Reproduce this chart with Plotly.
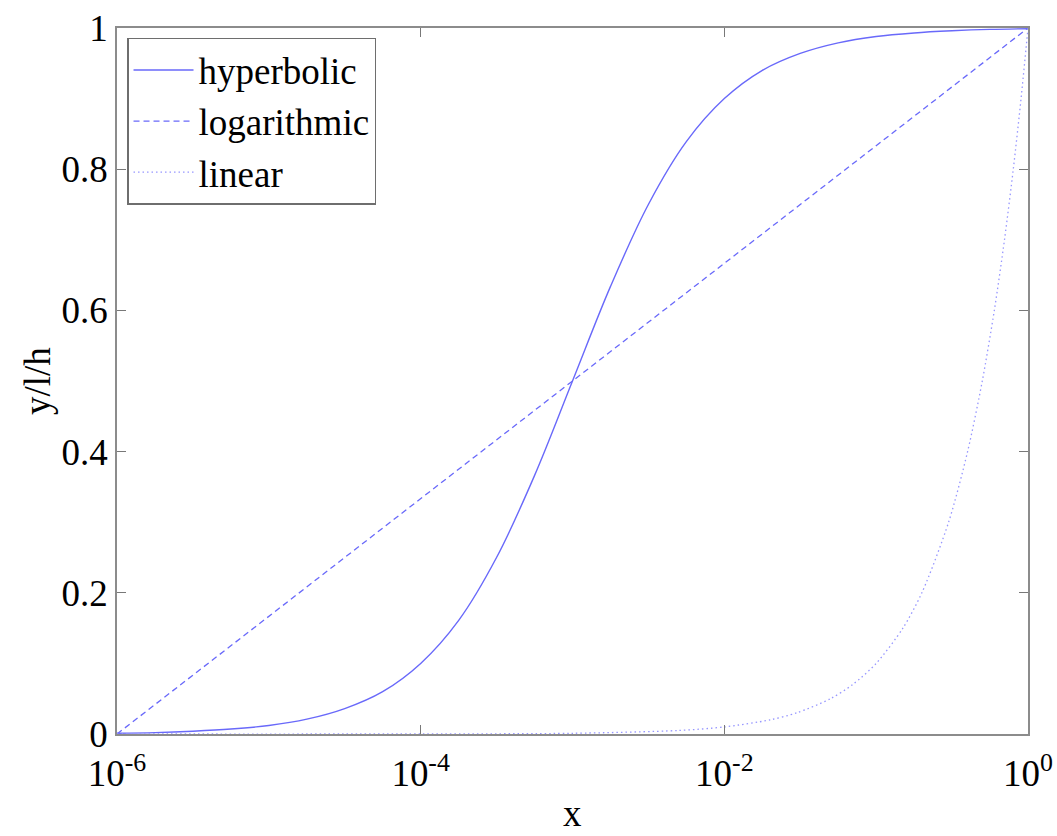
import plotly.graph_objects as go

# ---- data ----
hyp_x = [1e-6, 1.78e-6, 3.16e-6, 5.62e-6, 1e-5, 1.78e-5, 3.16e-5, 5.62e-5,
         1e-4, 1.78e-4, 3.16e-4, 5.62e-4, 1e-3, 1.78e-3, 3.16e-3, 5.62e-3,
         1e-2, 1.78e-2, 3.16e-2, 5.62e-2, 0.1, 0.178, 0.316, 0.562, 1.0]
hyp_y = [0.001, 0.002, 0.004, 0.007, 0.012, 0.021, 0.036, 0.060,
         0.100, 0.161, 0.250, 0.366, 0.500, 0.634, 0.750, 0.839,
         0.900, 0.940, 0.964, 0.979, 0.988, 0.993, 0.996, 0.998, 0.999]

log_x = [1e-6, 1.0]
log_y = [0.0, 1.0]

lin_x = [1e-6, 1e-4, 1e-3, 0.005, 0.01, 0.02, 0.03, 0.05, 0.07, 0.1, 0.15,
         0.2, 0.3, 0.4, 0.5, 0.6, 0.7, 0.8, 0.9, 1.0]
lin_y = [1e-6, 1e-4, 1e-3, 0.005, 0.01, 0.02, 0.03, 0.05, 0.07, 0.1, 0.15,
         0.2, 0.3, 0.4, 0.5, 0.6, 0.7, 0.8, 0.9, 1.0]

x_tickvals = [1e-6, 1e-4, 1e-2, 1]
x_ticktext = ["10<sup>-6</sup>", "10<sup>-4</sup>", "10<sup>-2</sup>", "10<sup>0</sup>"]
y_tickvals = [0, 0.2, 0.4, 0.6, 0.8, 1]
y_ticktext = ["0", "0.2", "0.4", "0.6", "0.8", "1"]

LINE = "rgb(105,105,250)"
FONT = "Liberation Serif, Times New Roman, serif"

fig = go.Figure()
fig.add_trace(go.Scatter(x=hyp_x, y=hyp_y, mode="lines", name="hyperbolic",
                         line=dict(color=LINE, width=1.4, shape="spline", smoothing=1.0)))
fig.add_trace(go.Scatter(x=log_x, y=log_y, mode="lines", name="logarithmic",
                         line=dict(color=LINE, width=1.3, dash="6px,4px")))
fig.add_trace(go.Scatter(x=lin_x, y=lin_y, mode="lines", name="linear",
                         line=dict(color="rgb(150,150,255)", width=1.3, dash="1.5px,3px",
                                   shape="spline", smoothing=0.8)))

axis_common = dict(
    showline=True, linecolor="rgb(140,140,140)", linewidth=1.5, mirror="ticks",
    ticks="inside", ticklen=9, tickcolor="rgb(120,120,120)", tickwidth=1,
    showgrid=False, zeroline=False, automargin=False, ticklabeloverflow="allow",
    tickfont=dict(family=FONT, size=37, color="black"),
)

fig.update_xaxes(type="log", range=[-6, 0], tickmode="array",
                 tickvals=x_tickvals, ticktext=x_ticktext,
                 ticklabelstandoff=6,
                 **axis_common)
fig.update_yaxes(range=[0, 1], tickmode="array",
                 tickvals=y_tickvals, ticktext=y_ticktext,
                 **axis_common)

# axis titles as annotations
fig.add_annotation(text="x", xref="paper", yref="paper", x=0.5, y=0,
                   yshift=-58, yanchor="top", showarrow=False, borderpad=0,
                   font=dict(family=FONT, size=37, color="black"))
fig.add_annotation(text="y/l/h", xref="paper", yref="paper", x=0, y=0.5,
                   xshift=-80, xanchor="center", yanchor="middle", textangle=-90,
                   showarrow=False,
                   font=dict(family=FONT, size=37, color="black"))

fig.update_layout(
    width=1057, height=836,
    margin=dict(l=117, r=29, t=28, b=102, autoexpand=False),
    paper_bgcolor="white", plot_bgcolor="white",
    showlegend=True,
    legend=dict(x=0.011, y=0.986, xanchor="left", yanchor="top",
                bgcolor="white", bordercolor="rgb(110,110,110)", borderwidth=1.5,
                font=dict(family=FONT, size=37, color="black"),
                tracegroupgap=0, itemwidth=60),
)

fig.write_html(
    "out.html",
    config={"displayModeBar": False},
    post_script="document.body.style.margin='0';document.body.style.overflow='hidden';",
)
